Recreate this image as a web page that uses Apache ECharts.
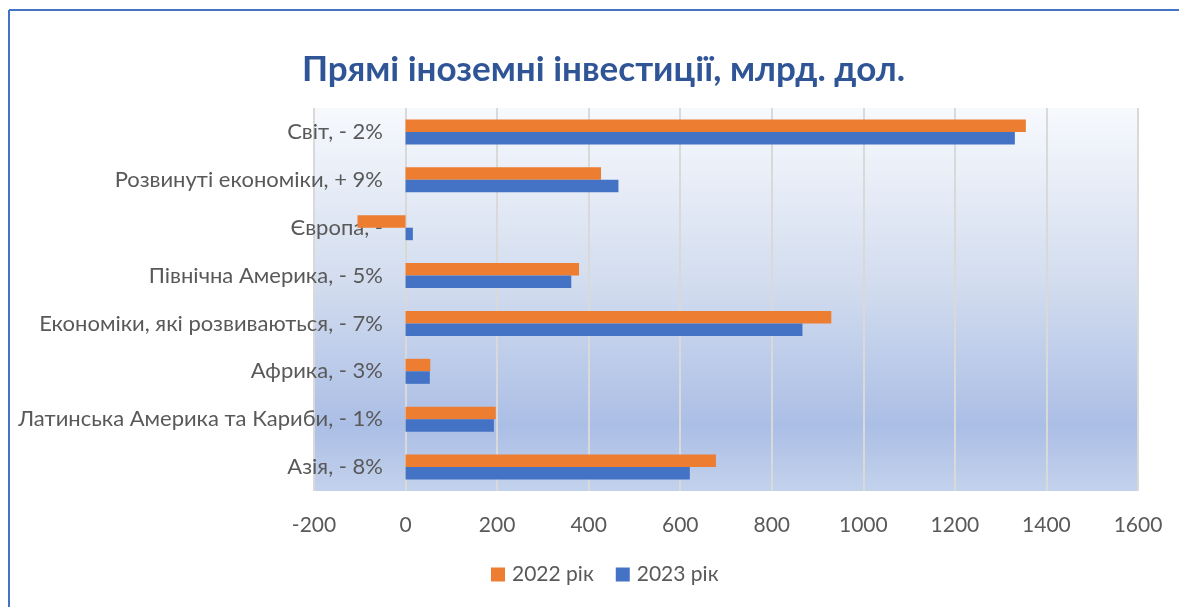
<!DOCTYPE html>
<html>
<head>
<meta charset="utf-8">
<script src="https://cdn.jsdelivr.net/npm/echarts@6/dist/echarts.min.js"></script>
<style>
  html, body { margin: 0; padding: 0; background: #fff; }
  #chart { width: 1179px; height: 607px; }
</style>
</head>
<body>
<div id="chart"></div>
<script>
const categories = [
  'Світ, - 2%',
  'Розвинуті економіки, + 9%',
  'Європа, -',
  'Північна Америка, - 5%',
  'Економіки, які розвиваються, - 7%',
  'Африка, - 3%',
  'Латинська Америка та Кариби, - 1%',
  'Азія, - 8%'
]
const values2022 = [1355, 427, -105, 379, 930, 54, 197, 678]
const values2023 = [1331, 465, 16, 362, 867, 53, 193, 621]
const seriesNames = ['2022 рік', '2023 рік']

const textGrey = '#595959'
const font = 'Lato, "Open Sans", sans-serif'

const chart = echarts.init(document.getElementById('chart'))

chart.setOption({
  animation: false,
  backgroundColor: '#fff',
  title: {
    text: 'Прямі іноземні інвестиції, млрд. дол.',
    left: 297,
    top: 47,
    textStyle: { color: '#2f5597', fontSize: 35, fontWeight: 'bold', fontFamily: font }
  },
  graphic: [
    { type: 'line', shape: { x1: 9, y1: 10, x2: 1179, y2: 10 }, style: { stroke: '#4472c4', lineWidth: 2 } },
    { type: 'line', shape: { x1: 9, y1: 10, x2: 9, y2: 607 }, style: { stroke: '#4472c4', lineWidth: 2 } }
  ],
  legend: {
    data: seriesNames,
    bottom: 17,
    left: 486,
    itemWidth: 14,
    itemHeight: 14,
    itemGap: 22,
    icon: 'rect',
    textStyle: { color: textGrey, fontSize: 21, fontFamily: font, padding: [0, 0, 0, 2] }
  },
  grid: {
    left: 314,
    right: 41,
    top: 108,
    bottom: 116,
    outerBoundsMode: 'none',
    containLabel: false,
    show: true,
    borderWidth: 0,
    backgroundColor: {
      type: 'linear', x: 0, y: 0, x2: 0, y2: 1,
      colorStops: [
        { offset: 0, color: '#f7f9fd' },
        { offset: 0.45, color: '#d3ddef' },
        { offset: 0.83, color: '#abbee5' },
        { offset: 1, color: '#c3d2ec' }
      ]
    }
  },
  xAxis: {
    type: 'value',
    min: -200,
    max: 1600,
    interval: 200,
    axisLine: { show: false },
    axisTick: { show: false },
    splitLine: { show: true, lineStyle: { color: '#d9d9d9', width: 2 } },
    axisLabel: {
      color: textGrey, fontSize: 21, fontFamily: font, margin: 24,
      formatter: v => String(v)
    }
  },
  yAxis: {
    type: 'category',
    data: categories,
    inverse: true,
    axisLine: { show: false },
    axisTick: { show: false },
    splitLine: { show: false },
    // labels sit next to the zero line, not at the plot edge
    axisLabel: { color: textGrey, fontSize: 22, fontFamily: font, margin: -69, align: 'right' }
  },
  series: [
    {
      name: seriesNames[0],
      type: 'bar',
      data: values2022,
      barWidth: 12.5,
      barGap: '0%',
      itemStyle: { color: '#ed7d31' }
    },
    {
      name: seriesNames[1],
      type: 'bar',
      data: values2023,
      barWidth: 12.5,
      barGap: '0%',
      itemStyle: { color: '#4472c4' }
    }
  ]
})
</script>
</body>
</html>
